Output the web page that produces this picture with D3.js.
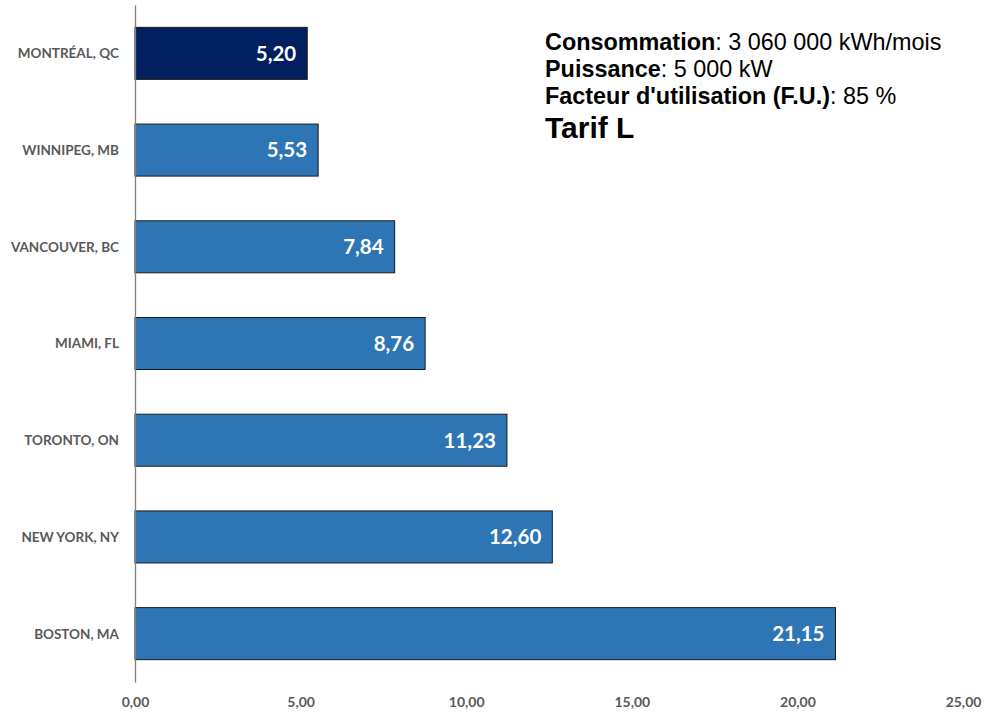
<!DOCTYPE html>
<html><head><meta charset="utf-8">
<script src="https://cdn.jsdelivr.net/npm/d3@7"></script>
<style>body{margin:0;background:#fff}</style>
</head><body>
<svg id="c" width="985" height="712"></svg>
<script>
const categories = ["MONTRÉAL, QC","WINNIPEG, MB","VANCOUVER, BC","MIAMI, FL","TORONTO, ON","NEW YORK, NY","BOSTON, MA"];
const values = [5.20, 5.53, 7.84, 8.76, 11.23, 12.60, 21.15];
const xTicks = [0, 5, 10, 15, 20, 25];
const highlight = "MONTRÉAL, QC";

const svg = d3.select("#c");
const x = d3.scaleLinear().domain([0, 25]).range([135, 963]);
const y = d3.scaleBand().domain(categories).range([5, 682]).paddingInner(0.462).paddingOuter(0.231);
const fmt = v => d3.format(".2f")(v).replace(".", ",");
const font = "Lato, 'Open Sans', sans-serif";

svg.selectAll("rect.bar").data(categories).join("rect")
  .attr("class","bar")
  .attr("x", x(0)).attr("y", d => y(d))
  .attr("width", (d,i) => x(values[i]) - x(0))
  .attr("height", y.bandwidth())
  .attr("fill", d => d === highlight ? "#002060" : "#2E75B6")
  .attr("stroke", "#1a1a1a").attr("stroke-width", 1);

svg.selectAll("text.val").data(categories).join("text")
  .attr("class","val")
  .attr("x", (d,i) => x(values[i]) - 11)
  .attr("y", d => y(d) + y.bandwidth()/2)
  .attr("dy", "0.36em")
  .attr("text-anchor","end")
  .attr("fill","#fff")
  .style("font-family", font).style("font-weight","bold").style("font-size","20.5px")
  .text((d,i) => fmt(values[i]));

// y axis
const ya = svg.append("g").attr("transform", `translate(${x(0)},0)`)
  .call(d3.axisLeft(y).tickSize(0).tickPadding(16));
ya.select(".domain").attr("stroke","#7f7f7f").attr("stroke-width",1.3);
ya.selectAll("text").attr("fill","#595959").attr("dy","0.36em")
  .style("font-family", font).style("font-weight","bold").style("font-size","13.5px");

// x axis (labels only)
const xa = svg.append("g").attr("transform", `translate(0,682)`)
  .call(d3.axisBottom(x).tickValues(xTicks).tickFormat(fmt).tickSize(0).tickPadding(15));
xa.select(".domain").remove();
xa.selectAll("text").attr("fill","#595959")
  .style("font-family", font).style("font-weight","bold").style("font-size","14px");

// info text
const info = svg.append("g").style("font-family","'Liberation Sans', Arial, sans-serif").attr("fill","#000");
const lines = [
  ["Consommation", ": 3 060 000 kWh/mois", 50],
  ["Puissance", ": 5 000 kW", 77],
  ["Facteur d'utilisation (F.U.)", ": 85 %", 103.5]
];
lines.forEach(l => {
  const t = info.append("text").attr("x", 545).attr("y", l[2]).style("font-size","23.4px");
  t.append("tspan").style("font-weight","bold").text(l[0]);
  t.append("tspan").text(l[1]);
});
info.append("text").attr("x",545).attr("y",138).style("font-size","30px").style("font-weight","bold").text("Tarif L");
</script>
</body></html>
